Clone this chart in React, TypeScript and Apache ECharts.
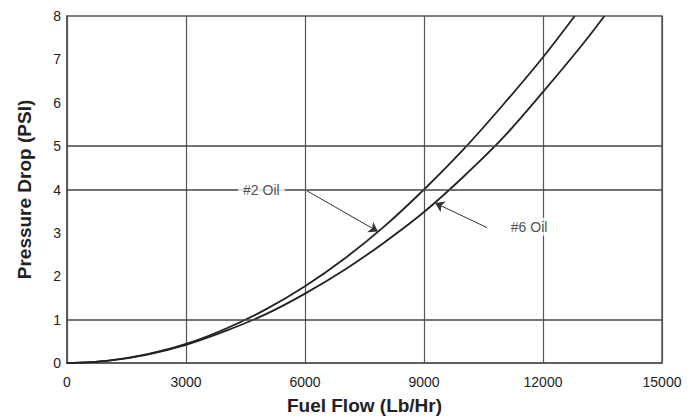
import React, { useEffect, useRef } from "react";
import * as echarts from "echarts";

const flow2 = [0, 1000, 2000, 3000, 4000, 5000, 6000, 7000, 8000, 9000, 10000, 11000, 12000, 12800];
const drop2 = [0, 0.05, 0.2, 0.44, 0.79, 1.23, 1.77, 2.41, 3.15, 4.0, 4.93, 5.96, 7.05, 8.0];
const flow6 = [0, 1000, 2000, 3000, 4000, 5000, 6000, 7000, 8000, 9000, 10000, 11000, 12000, 13000, 13550];
const drop6 = [0, 0.05, 0.19, 0.42, 0.74, 1.12, 1.6, 2.15, 2.78, 3.48, 4.3, 5.2, 6.25, 7.35, 8.0];
const gridLevels = [1, 4, 5];
const labelNames = ["#2 Oil", "#6 Oil"];
const labelPoints = [[4900, 3.99], [11650, 3.14]];
const arrowFrom = [[6050, 3.97], [10590, 3.12]];
const arrowTo = [[7840, 3.03], [9280, 3.69]];

const FONT = "'Liberation Sans', Arial, sans-serif";

export default function App() {
  const ref = useRef<HTMLDivElement>(null);
  useEffect(() => {
    if (!ref.current) return;
    const chart = echarts.init(ref.current, null, { renderer: "svg" });
    const curveStyle = { color: "#222", width: 1.8 };
    chart.setOption({
      animation: false,
      backgroundColor: "#fff",
      grid: {
        left: 67,
        right: 37,
        top: 16,
        bottom: 54,
        show: true,
        borderColor: "#555",
        borderWidth: 1.5,
        backgroundColor: "transparent",
      },
      xAxis: {
        type: "value",
        min: 0,
        max: 15000,
        interval: 3000,
        name: "Fuel Flow (Lb/Hr)",
        nameLocation: "middle",
        nameGap: 33,
        nameTextStyle: { fontFamily: FONT, fontSize: 19, fontWeight: "bold", color: "#222" },
        axisLine: { show: true, lineStyle: { color: "#555", width: 1.5 } },
        axisTick: { show: false },
        axisLabel: {
          fontFamily: FONT,
          fontSize: 14,
          color: "#222",
          margin: 12,
          formatter: (v: number) => String(v),
        },
        splitLine: { show: true, lineStyle: { color: "#555", width: 1.2 } },
      },
      yAxis: {
        type: "value",
        min: 0,
        max: 8,
        interval: 1,
        name: "Pressure Drop (PSI)",
        nameLocation: "middle",
        nameGap: 33,
        nameTextStyle: { fontFamily: FONT, fontSize: 19, fontWeight: "bold", color: "#222" },
        axisLine: { show: true, lineStyle: { color: "#555", width: 1.5 } },
        axisTick: { show: false },
        axisLabel: { fontFamily: FONT, fontSize: 14, color: "#222", margin: 6 },
        splitLine: { show: false },
      },
      series: [
        {
          type: "line",
          data: [],
          z: 1,
          markLine: {
            silent: true,
            symbol: ["none", "none"],
            label: { show: false },
            lineStyle: { color: "#444", width: 1.5, type: "solid" },
            data: gridLevels.map((v) => ({ yAxis: v })),
          },
        },
        {
          name: "#2 Oil",
          type: "line",
          smooth: 0.3,
          symbol: "none",
          lineStyle: curveStyle,
          data: flow2.map((f, i) => [f, drop2[i]]),
          z: 3,
        },
        {
          name: "#6 Oil",
          type: "line",
          smooth: 0.3,
          symbol: "none",
          lineStyle: curveStyle,
          data: flow6.map((f, i) => [f, drop6[i]]),
          z: 3,
        },
        {
          type: "line",
          data: [],
          z: 4,
          markLine: {
            silent: true,
            symbol: ["none", "arrow"],
            symbolSize: 9,
            label: { show: false },
            itemStyle: { color: "#222" },
            lineStyle: { color: "#333", width: 1, type: "solid" },
            data: arrowFrom.map((a, i) => [{ coord: a }, { coord: arrowTo[i] }]),
          },
        },
        {
          type: "scatter",
          z: 6,
          symbolSize: 0,
          data: labelPoints.map((p, i) => ({ value: p, name: labelNames[i] })),
          label: {
            show: true,
            position: "inside",
            formatter: (p: any) => p.name,
            fontFamily: FONT,
            fontSize: 14,
            color: "#222",
            backgroundColor: "#fff",
            padding: [2, 5],
          },
        },
      ],
    });
    return () => chart.dispose();
  }, []);
  return (
    <div
      ref={ref}
      style={{ position: "fixed", left: 0, top: 0, width: 699, height: 420, background: "#fff" }}
    />
  );
}
